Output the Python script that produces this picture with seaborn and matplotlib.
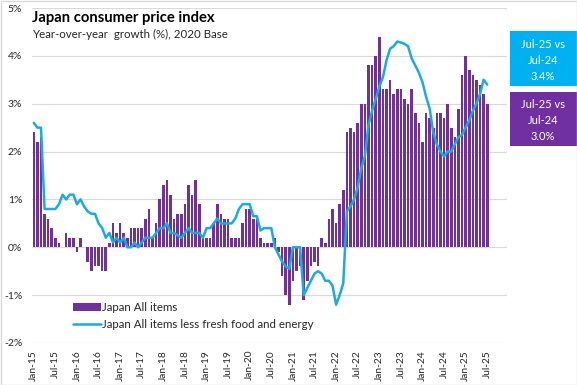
"""
Japan consumer price index, year-over-year growth (%), 2020 base
- monthly bars: all items
- line: all items less fresh food and energy
"""

import numpy as np
import pandas as pd
import matplotlib
matplotlib.use("Agg")
import matplotlib.pyplot as plt
from matplotlib.patches import Rectangle
import seaborn as sns

# Monthly data, Jan-15 .. Jul-25
all_items = [
    2.4, 2.2, 2.3, 0.7, 0.6, 0.4, 0.2, 0.1, 0.0, 0.3, 0.2, 0.2,      # 2015
    -0.1, 0.2, 0.0, -0.3, -0.5, -0.4, -0.4, -0.5, -0.5, 0.1, 0.5, 0.3,  # 2016
    0.5, 0.3, 0.2, 0.4, 0.4, 0.4, 0.4, 0.6, 0.8, 0.2, 0.5, 1.0,      # 2017
    1.3, 1.4, 1.1, 0.6, 0.7, 0.7, 0.9, 1.3, 1.1, 1.4, 0.9, 0.2,      # 2018
    0.2, 0.2, 0.5, 0.9, 0.7, 0.6, 0.6, 0.2, 0.2, 0.2, 0.5, 0.8,      # 2019
    0.8, 0.6, 0.6, 0.2, 0.1, 0.1, 0.1, 0.2, -0.1, -0.6, -1.0, -1.2,  # 2020
    -0.7, -0.5, -0.4, -1.1, -0.7, -0.4, -0.3, -0.4, 0.2, 0.1, 0.6, 0.8,  # 2021
    0.5, 0.9, 1.2, 2.4, 2.5, 2.4, 2.6, 3.0, 3.0, 3.8, 3.8, 4.0,      # 2022
    4.4, 3.3, 3.3, 3.5, 3.2, 3.3, 3.3, 3.1, 3.0, 3.3, 2.8, 2.6,      # 2023
    2.2, 2.8, 2.7, 2.5, 2.8, 2.8, 2.7, 3.0, 2.5, 2.3, 2.9, 3.6,      # 2024
    4.0, 3.7, 3.6, 3.5, 3.4, 3.2, 3.0,                               # 2025
]

core_core = [
    2.6, 2.5, 2.5, 0.8, 0.8, 0.8, 0.8, 0.9, 1.1, 1.0, 1.1, 1.1,
    0.9, 1.0, 0.85, 0.75, 0.7, 0.7, 0.5, 0.4, 0.2, 0.3, 0.1, 0.2,
    0.1, 0.2, 0.0, 0.0, 0.1, 0.0, 0.1, 0.2, 0.2, 0.2, 0.3, 0.4,
    0.4, 0.5, 0.3, 0.3, 0.25, 0.2, 0.3, 0.4, 0.3, 0.3, 0.3, 0.2,
    0.4, 0.4, 0.5, 0.6, 0.5, 0.5, 0.5, 0.5, 0.6, 0.8, 0.9, 0.9,
    0.9, 0.65, 0.65, 0.35, 0.4, 0.4, 0.4, 0.0, -0.15, -0.3, -0.4, -0.45,
    0.0, 0.0, 0.0, -1.0, -0.85, -0.7, -0.55, -0.5, -0.55, -0.7, -0.7, -0.8,
    -1.2, -1.0, -0.75, 0.75, 0.85, 1.0, 1.25, 1.65, 1.9, 2.55, 2.85, 3.1,
    3.35, 3.55, 3.9, 4.15, 4.2, 4.3, 4.28, 4.25, 4.2, 3.95, 3.8, 3.65,
    3.45, 3.15, 2.9, 2.4, 2.15, 2.0, 1.9, 2.0, 2.0, 2.15, 2.3, 2.35,
    2.5, 2.65, 2.85, 3.0, 3.2, 3.5, 3.4,
]

months = pd.date_range("2015-01-01", periods=len(all_items), freq="MS")
month_labels = months.strftime("%b-%y")

box_core = ["Jul-25 vs", "Jul-24", "3.4%"]
box_all = ["Jul-25 vs", "Jul-24", "3.0%"]

PURPLE = "#7030A0"
BLUE = "#1AABE3"
BOX_BLUE = "#00B0F0"
GRID = "#D9D9D9"
TEXT = "#262626"

df = pd.DataFrame({
    "pos": np.arange(len(all_items)),
    "all_items": all_items,
    "core_core": core_core,
})

sns.set_theme(style="white")
plt.rcParams["font.family"] = ["Lato", "DejaVu Sans"]

fig = plt.figure(figsize=(5.77, 3.85), dpi=100)
ax = fig.add_axes([32 / 577, 1 - 343 / 385, 475 / 577, 335 / 385])

sns.barplot(data=df, x="pos", y="all_items", native_scale=True,
            color=PURPLE, saturation=1, width=0.72, linewidth=0, ax=ax,
            label="Japan All items")
sns.lineplot(data=df, x="pos", y="core_core", color=BLUE, lw=1.8, ax=ax,
             label="Japan All items less fresh food and energy")

ax.set_xlim(-0.5, 131.5)
ax.set_ylim(-2, 5)
ax.set_yticks(range(-2, 6))
ax.set_yticklabels([f"{v}%" for v in range(-2, 6)], fontsize=7.5, color=TEXT)
tick_pos = list(range(0, len(all_items), 6))
ax.set_xticks(tick_pos)
ax.set_xticklabels([month_labels[i] for i in tick_pos], rotation=90,
                   fontsize=7.3, color=TEXT)
ax.tick_params(axis="y", length=0, pad=7)
ax.tick_params(axis="x", length=0, pad=5)
ax.set_xlabel("")
ax.set_ylabel("")
ax.grid(axis="y", color=GRID, lw=0.8)
ax.set_axisbelow(True)
for s in ax.spines.values():
    s.set_visible(False)

# legend: bars first, then line
handles, labels = ax.get_legend_handles_labels()
order = [labels.index("Japan All items"),
         labels.index("Japan All items less fresh food and energy")]
ax.legend([handles[i] for i in order], [labels[i] for i in order],
          loc="upper left", bbox_to_anchor=(73 / 577, 1 - 302 / 385),
          bbox_transform=fig.transFigure, frameon=False, fontsize=8.3,
          borderpad=0, borderaxespad=0, handlelength=2.4, handletextpad=0.15,
          labelspacing=0.5)

fig.text(32 / 577, 1 - 18 / 385, "Japan consumer price index",
         fontsize=10.6, fontweight="bold", color="#000000", va="center")
fig.text(32 / 577, 1 - 34 / 385, "Year-over-year  growth (%), 2020 Base",
         fontsize=8.3, color=TEXT, va="center")

# summary boxes at right
for y_top, y_bot, color, lines in [(31, 86, BOX_BLUE, box_core),
                                   (92, 146, PURPLE, box_all)]:
    fig.patches.append(Rectangle((510 / 577, 1 - y_bot / 385),
                                 67 / 577, (y_bot - y_top) / 385,
                                 transform=fig.transFigure,
                                 facecolor=color, edgecolor="none"))
    for k, txt in enumerate(lines):
        yc = y_top + 13 + k * 16
        fig.text(543 / 577, 1 - yc / 385, txt, color="white", fontsize=8,
                 ha="center", va="center")

# light chart border
fig.patches.append(Rectangle((0.5 / 577, 0.5 / 385), 576 / 577, 384 / 385,
                             transform=fig.transFigure, fill=False,
                             edgecolor=GRID, lw=1))

fig.savefig("out.png", dpi=100)
